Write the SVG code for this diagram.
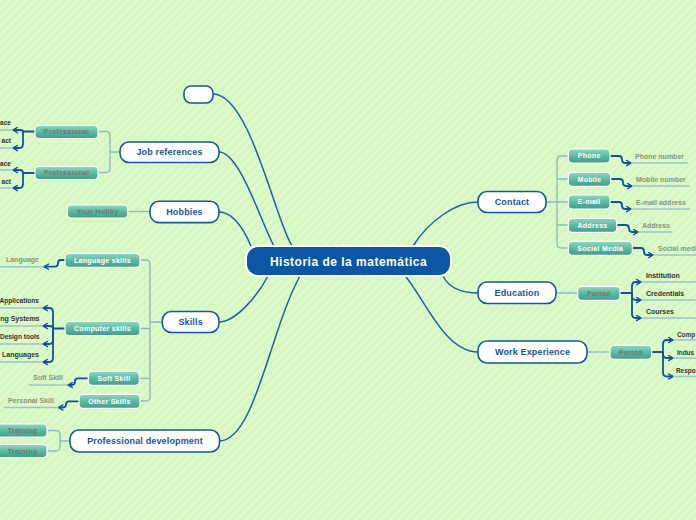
<svg xmlns="http://www.w3.org/2000/svg" width="696" height="520" viewBox="0 0 696 520">
<defs>
<pattern id="bgp" width="6" height="6" patternUnits="userSpaceOnUse" patternTransform="rotate(45)">
<rect width="6" height="6" fill="#d6f7c1"/><rect width="2" height="6" fill="#dffacd"/>
</pattern>
<linearGradient id="teal" x1="0" y1="0" x2="0" y2="1">
<stop offset="0" stop-color="#8fd7c3"/><stop offset="0.5" stop-color="#5fb9a2"/><stop offset="1" stop-color="#419c86"/>
</linearGradient>
<marker id="arr" viewBox="0 0 10 10" refX="8" refY="5" markerWidth="7" markerHeight="7" orient="auto" markerUnits="userSpaceOnUse">
<path d="M1,1 L8,5 L1,9" fill="none" stroke="#1550a0" stroke-width="2"/>
</marker>
<style>
.main{fill:#fff;stroke:#1656a4;stroke-width:1.6}
.mt{font-family:"Liberation Sans",Arial,sans-serif;font-weight:bold;font-size:9px;fill:#1a55a0;text-anchor:middle;letter-spacing:0.15px}
.sub{fill:url(#teal);stroke:#fff;stroke-width:1.2}
.st{font-family:"Liberation Sans",Arial,sans-serif;font-weight:bold;font-size:7px;text-anchor:middle;letter-spacing:0.3px}
.w{fill:#fff}
.g{fill:#6c7a70}
.lt{font-family:"Liberation Sans",Arial,sans-serif;font-weight:bold;font-size:7px}
.sm{font-size:6.6px}
.xs{font-size:6.4px}
.lg{fill:#86957e}
.ld{fill:#333}
.curve{fill:none;stroke:#1f5fa8;stroke-width:1.5}
.br{fill:none;stroke:#8bb9c3;stroke-width:1.3}
.lf{fill:none;stroke:#1550a0;stroke-width:1.8;marker-end:url(#arr)}
.ul{fill:none;stroke:#9cc4cd;stroke-width:1.5}
</style>
</defs>
<rect width="696" height="520" fill="url(#bgp)"/>

<g id="connectors">
<path class="curve" d="M213,94 C250,94 275,220 292,246"/>
<path class="curve" d="M219,152 C240,152 262,225 274,246"/>
<path class="curve" d="M219,212 C235,212 245,232 251,246"/>
<path class="curve" d="M219,322 C236,322 258,295 268,276"/>
<path class="curve" d="M219,441 C255,441 270,330 300,276"/>
<path class="curve" d="M478,202 C455,202 428,222 413,246"/>
<path class="curve" d="M478,293 C458,293 448,286 443,276"/>
<path class="curve" d="M478,352 C445,352 425,300 406,277"/>
<path class="br" d="M120,152 H110 M98,131.5 H106 Q110,131.5 110,135.5 V168.5 Q110,172.5 106,172.5 H98"/>
<path class="br" d="M150,211.5 H128"/>
<path class="br" d="M162,322 H150 M140,260 H146 Q150,260 150,264 V397 Q150,401 146,401 H140 M140,328.5 H150 M139,378.3 H150"/>
<path class="br" d="M70,441 H60 M47,430.5 H56 Q60,430.5 60,434.5 V447 Q60,451 56,451 H47"/>
<path class="br" d="M546,202 H568 M568,156 H561 Q557,156 557,160 V244 Q557,248 561,248 H568 M568,179 H557 M568,225 H557"/>
<path class="br" d="M556,293 H578"/>
<path class="br" d="M587,352 H610"/>
<path class="lf" d="M610,156 H619 Q622,156 622,159.5 Q622,163 625,163 H631"/>
<path class="lf" d="M611,179 H620 Q623,179 623,182.5 Q623,186 626,186 H632"/>
<path class="lf" d="M610,202 H619 Q622,202 622,205.5 Q622,209 625,209 H631"/>
<path class="lf" d="M617,225 H626 Q629,225 629,228.5 Q629,232 632,232 H638"/>
<path class="lf" d="M632,248 H641 Q644,248 644,251.5 Q644,255 647,255 H653"/>
<path class="lf" d="M620,293 H632 V286 Q632,282 636,282 H641"/>
<path class="lf" d="M632,293 V296 Q632,300 636,300 H641"/>
<path class="lf" d="M632,293 V314 Q632,318 636,318 H641"/>
<path class="lf" d="M651,352 H663 V344 Q663,340 667,340 H673"/>
<path class="lf" d="M663,352 V354 Q663,358 667,358 H673"/>
<path class="lf" d="M663,352 V372.5 Q663,376.5 667,376.5 H673"/>
<path class="lf" d="M35,131.5 H23 Q23,130 20,130 H13"/>
<path class="lf" d="M23,131.5 V144 Q23,148 19,148 H13"/>
<path class="lf" d="M35,173 H23 Q23,170 20,170 H13"/>
<path class="lf" d="M23,173 V184 Q23,188 19,188 H13"/>
<path class="lf" d="M65,260 H61 Q58,260 58,263.3 Q58,266.7 55,266.7 H44"/>
<path class="lf" d="M65,328.5 H53 V312 Q53,308 49,308 H43"/>
<path class="lf" d="M53,328.5 Q53,326 50,326 H43"/>
<path class="lf" d="M53,328.5 V340 Q53,344 49,344 H43"/>
<path class="lf" d="M53,328.5 V358 Q53,362 49,362 H43"/>
<path class="lf" d="M88,378.3 H78 Q75,378.3 75,381.6 Q75,385 72,385 H68"/>
<path class="lf" d="M79,401.3 H69 Q66,401.3 66,404.3 Q66,407.5 63,407.5 H58.5"/>
<path class="ul" d="M631,163 H688 M632,186 H690 M631,209 H690 M638,232 H672 M653,255 H696"/>
<path class="ul" d="M641,282 H696 M641,300 H696 M641,318 H696"/>
<path class="ul" d="M673,340 H696 M673,358 H696 M673,376.5 H696"/>
<path class="ul" d="M0,130 H13 M0,148 H13 M0,170 H13 M0,188 H13"/>
<path class="ul" d="M0,266.7 H44 M0,308 H43 M0,326 H43 M0,344 H43 M0,362 H43"/>
<path class="ul" d="M29,385 H68 M4,407.5 H58.5"/>
</g>

<g id="central">
<rect x="246" y="246" width="205" height="30" rx="12" fill="#0c56a3" stroke="#fff" stroke-width="2"/>
<text x="348.5" y="266" font-family="Liberation Sans, Arial, sans-serif" font-weight="bold" font-size="12" fill="#fff" text-anchor="middle" letter-spacing="0.5">Historia de la matemática</text>
</g>

<g id="empty-node"><rect class="main" x="184" y="86" width="29" height="17" rx="7"/></g>
<g id="job-references"><rect class="main" x="120" y="142" width="99" height="20.5" rx="9"/><text class="mt" x="169.5" y="155.3">Job references</text></g>
<g id="hobbies"><rect class="main" x="150" y="201.3" width="69" height="21.3" rx="9"/><text class="mt" x="184.5" y="215.2">Hobbies</text></g>
<g id="skills"><rect class="main" x="162.3" y="311.5" width="56.7" height="21" rx="9"/><text class="mt" x="190.6" y="325.3">Skills</text></g>
<g id="professional-development"><rect class="main" x="70" y="430" width="149.5" height="22" rx="9"/><text class="mt" x="145" y="444.3">Professional development</text></g>
<g id="contact"><rect class="main" x="478" y="191.5" width="68" height="21" rx="9"/><text class="mt" x="512" y="205.3">Contact</text></g>
<g id="education"><rect class="main" x="478" y="282" width="78" height="21.5" rx="9"/><text class="mt" x="517" y="296">Education</text></g>
<g id="work-experience"><rect class="main" x="478" y="341" width="109" height="22" rx="9"/><text class="mt" x="532.5" y="355.2">Work Experience</text></g>

<g id="professional-1"><rect class="sub" x="35" y="125.5" width="63" height="13" rx="4"/><text class="st g" x="66.5" y="134.3">Professional</text></g>
<g id="professional-2"><rect class="sub" x="35" y="166.5" width="63" height="13" rx="4"/><text class="st g" x="66.5" y="175.3">Professional</text></g>
<g id="your-hobby"><rect class="sub" x="67.3" y="205" width="60.5" height="13" rx="4"/><text class="st g" x="97.5" y="213.8">Your Hobby</text></g>
<g id="language-skills"><rect class="sub" x="65" y="253.3" width="75" height="14" rx="4"/><text class="st w" x="102.5" y="262.6">Language skills</text></g>
<g id="computer-skills"><rect class="sub" x="65" y="321.5" width="75" height="14" rx="4"/><text class="st w" x="102.5" y="330.8">Computer skills</text></g>
<g id="soft-skill"><rect class="sub" x="88.3" y="371.3" width="51" height="14" rx="4"/><text class="st w" x="114" y="380.6">Soft Skill</text></g>
<g id="other-skills"><rect class="sub" x="79" y="394.3" width="61" height="14" rx="4"/><text class="st w" x="109.5" y="403.6">Other Skills</text></g>
<g id="training-1"><rect class="sub" x="-10" y="424" width="57" height="13" rx="4"/><text class="st g" x="22.5" y="433">Training</text></g>
<g id="training-2"><rect class="sub" x="-10" y="444.5" width="57" height="13" rx="4"/><text class="st g" x="22.5" y="453.5">Training</text></g>
<g id="phone"><rect class="sub" x="568.3" y="149" width="41.7" height="14" rx="4"/><text class="st w" x="589.2" y="158.4">Phone</text></g>
<g id="mobile"><rect class="sub" x="568.3" y="172.3" width="42.4" height="14" rx="4"/><text class="st w" x="589.5" y="181.7">Mobile</text></g>
<g id="e-mail"><rect class="sub" x="568.3" y="195" width="41.7" height="14" rx="4"/><text class="st w" x="589.2" y="204.4">E-mail</text></g>
<g id="address"><rect class="sub" x="568.3" y="218.3" width="48.4" height="14" rx="4"/><text class="st w" x="592.5" y="227.7">Address</text></g>
<g id="social-media"><rect class="sub" x="568.3" y="241.3" width="64" height="14" rx="4"/><text class="st w" x="600.3" y="250.7">Social Media</text></g>
<g id="period-education"><rect class="sub" x="577.7" y="286.3" width="42.3" height="14" rx="4"/><text class="st g" x="598.9" y="295.7">Period</text></g>
<g id="period-work"><rect class="sub" x="610" y="345.3" width="41.7" height="14" rx="4"/><text class="st g" x="630.9" y="354.7">Period</text></g>

<g id="leaf-texts">
<text class="lt lg" x="635" y="158.5">Phone number</text>
<text class="lt lg" x="636" y="181.5">Mobile number</text>
<text class="lt lg" x="636" y="204.5">E-mail address</text>
<text class="lt lg" x="642" y="227.5">Address</text>
<text class="lt lg" x="658" y="250.5">Social medi</text>
<text class="lt ld" x="646" y="277.8">Institution</text>
<text class="lt ld" x="646" y="295.8">Credentials</text>
<text class="lt ld" x="646" y="313.8">Courses</text>
<text class="lt ld xs" x="677" y="336.5">Comp</text>
<text class="lt ld xs" x="677" y="354.5">Indus</text>
<text class="lt ld xs" x="676" y="373">Respo</text>
<text class="lt ld sm" x="11" y="125" text-anchor="end">ace</text>
<text class="lt ld sm" x="11" y="143" text-anchor="end">act</text>
<text class="lt ld sm" x="11" y="165.8" text-anchor="end">ace</text>
<text class="lt ld sm" x="11" y="183.5" text-anchor="end">act</text>
<text class="lt lg" x="39" y="261.8" text-anchor="end">Language</text>
<text class="lt ld sm" x="39" y="303.2" text-anchor="end">Applications</text>
<text class="lt ld" x="39.5" y="321.2" text-anchor="end">ng Systems</text>
<text class="lt ld sm" x="39.5" y="339.2" text-anchor="end">Design tools</text>
<text class="lt ld" x="39" y="357.2" text-anchor="end">Languages</text>
<text class="lt lg" x="33" y="379.8">Soft Skill</text>
<text class="lt lg" x="8" y="403.2">Personal Skill</text>
</g>
</svg>
